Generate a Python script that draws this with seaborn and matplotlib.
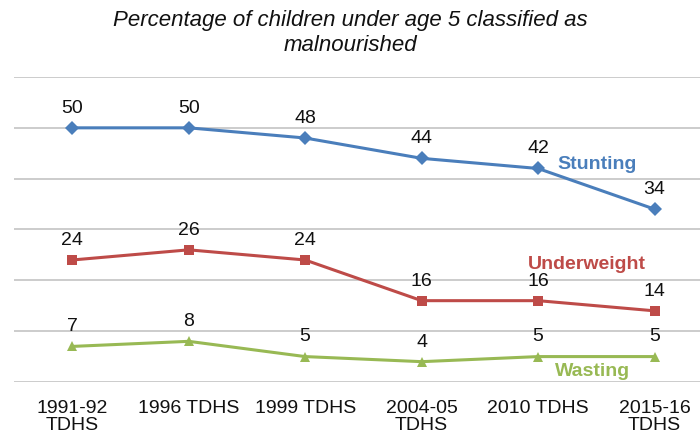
import matplotlib
matplotlib.use("Agg")
import matplotlib.pyplot as plt
import seaborn as sns
import pandas as pd

categories = ["1991-92\nTDHS", "1996 TDHS", "1999 TDHS", "2004-05\nTDHS", "2010 TDHS", "2015-16\nTDHS"]
stunting = [50, 50, 48, 44, 42, 34]
underweight = [24, 26, 24, 16, 16, 14]
wasting = [7, 8, 5, 4, 5, 5]
series_names = ["Stunting", "Underweight", "Wasting"]
colors = ["#4A7EBB", "#BE4B48", "#98B954"]
title = "Percentage of children under age 5 classified as\nmalnourished"

sns.set_theme(style="white")
plt.rcParams["font.family"] = ["Liberation Sans", "DejaVu Sans"]

rows = []
for name, vals in zip(series_names, [stunting, underweight, wasting]):
    for i, v in enumerate(vals):
        rows.append({"idx": i, "value": v, "series": name})
df = pd.DataFrame(rows)

fig = plt.figure(figsize=(7.0, 4.36), dpi=100)
ax = fig.add_axes([14 / 700, 1 - 382 / 436, 1 - 14 / 700, (382 - 77) / 436])

sns.lineplot(data=df, x="idx", y="value", hue="series", style="series",
             palette=dict(zip(series_names, colors)),
             markers={"Stunting": "D", "Underweight": "s", "Wasting": "^"},
             dashes=False, markersize=7, linewidth=2.2, markeredgewidth=0,
             legend=False, ax=ax)

ax.set_xlim(-0.5, 5.39)
ax.set_ylim(0, 60)
ax.set_yticks(range(0, 61, 10))
ax.set_yticklabels([])
ax.yaxis.grid(True, color="#BFBFBF", linewidth=1.1)
ax.set_axisbelow(True)
for s in ax.spines.values():
    s.set_visible(False)
ax.set_xticks(range(len(categories)))
ax.set_xticklabels(categories, fontsize=14, color="#111111", linespacing=1.0)
ax.tick_params(axis="x", length=0, pad=13)
ax.tick_params(axis="y", length=0)
ax.set_xlabel("")
ax.set_ylabel("")

for vals in [stunting, underweight, wasting]:
    for i, v in enumerate(vals):
        ax.annotate(str(v), (i, v), xytext=(0, 8), textcoords="offset points",
                    ha="center", va="bottom", fontsize=14, color="#111111")

ax.text(4.505, 42.7, "Stunting", color=colors[0], fontsize=14, fontweight="bold", ha="center", va="center")
ax.text(4.42, 23.2, "Underweight", color=colors[1], fontsize=14, fontweight="bold", ha="center", va="center")
ax.text(4.47, 2.0, "Wasting", color=colors[2], fontsize=14, fontweight="bold", ha="center", va="center")

fig.text(0.5, 1 - 33 / 436, title, ha="center", va="center", fontsize=16,
         style="italic", color="#111111", linespacing=1.2)

fig.savefig("out.png", dpi=100)
